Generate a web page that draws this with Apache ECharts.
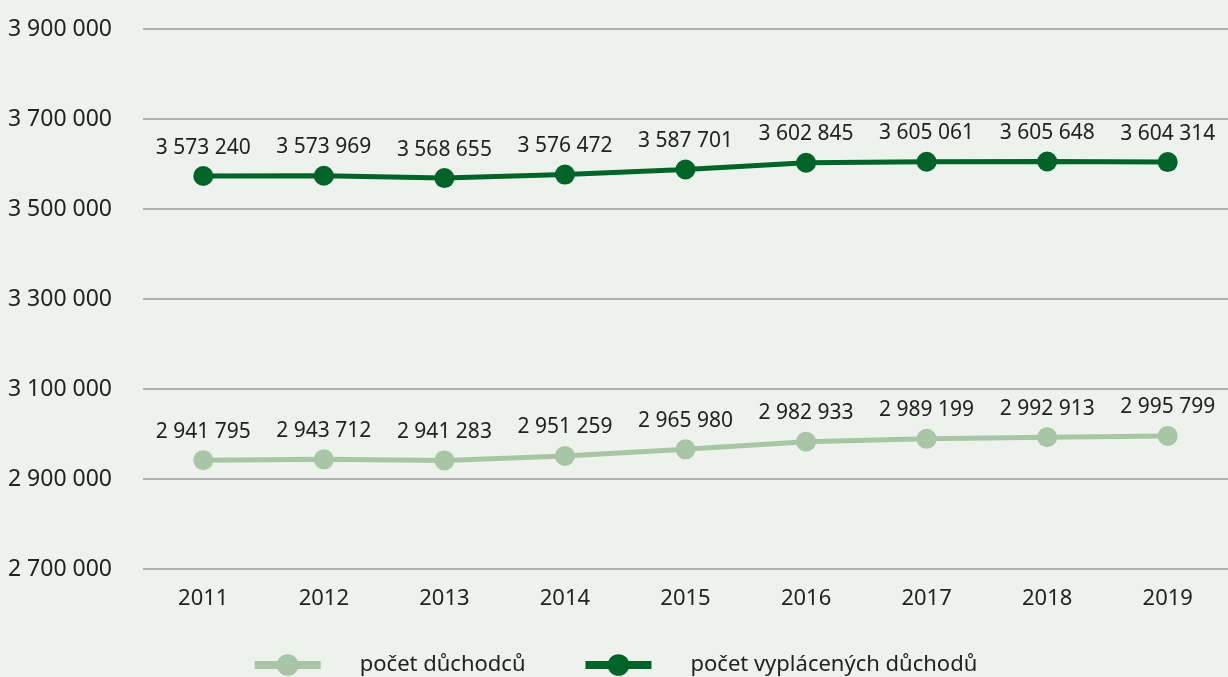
<!DOCTYPE html>
<html lang="cs">
<head>
    <meta charset="UTF-8"/>
    <script src="https://cdn.jsdelivr.net/npm/echarts@6/dist/echarts.min.js"></script>
    <title>Počet důchodců</title>
    <style>
        html, body { margin: 0; padding: 0; background: #edf3ec; }
    </style>
</head>
<body>
<div id="main" style="width: 1228px;height:677px;"></div>
<script type="text/javascript">
    var years = ['2011', '2012', '2013', '2014', '2015', '2016', '2017', '2018', '2019'];
    var duchodci = [2941795, 2943712, 2941283, 2951259, 2965980, 2982933, 2989199, 2992913, 2995799];
    var vyplaceneDuchody = [3573240, 3573969, 3568655, 3576472, 3587701, 3602845, 3605061, 3605648, 3604314];

    function fmt(v) {
        return String(v).replace(/\B(?=(\d{3})+(?!\d))/g, ' ');
    }

    var font = 'Noto Sans';
    var myChart = echarts.init(document.getElementById('main'));

    // společný styl popisků hodnot
    var valueLabel = {
        show: true, position: 'top', distance: 8,
        fontFamily: font, fontSize: 21, color: '#222',
        formatter: function (p) { return fmt(p.value); }
    };

    var option = {
        backgroundColor: '#edf3ec',
        textStyle: { fontFamily: font },
        grid: { left: 143, right: -5, top: 29, bottom: 108 },
        legend: {
            bottom: -4,
            left: 'center',
            itemWidth: 66,
            itemHeight: 27,
            itemGap: 56,
            lineStyle: { width: 8 },
            textStyle: { fontFamily: font, fontSize: 22, color: '#222', padding: [0, 0, 0, 34] },
            data: ['počet důchodců', 'počet vyplácených důchodů']
        },
        xAxis: {
            type: 'category',
            data: years,
            axisLine: { show: false },
            axisTick: { show: false },
            axisLabel: { fontFamily: font, fontSize: 22, color: '#222', margin: 19 }
        },
        yAxis: {
            type: 'value',
            min: 2700000,
            max: 3900000,
            interval: 200000,
            axisLabel: { fontFamily: font, fontSize: 23, color: '#222', margin: 31, formatter: fmt },
            splitLine: { lineStyle: { color: '#b0b0b0', width: 2 } }
        },
        series: [
            {
                name: 'počet důchodců',
                type: 'line',
                data: duchodci,
                color: '#a8c6a6',
                symbol: 'circle',
                symbolSize: 20,
                lineStyle: { width: 5, color: '#a8c6a6' },
                label: valueLabel
            },
            {
                name: 'počet vyplácených důchodů',
                type: 'line',
                data: vyplaceneDuchody,
                color: '#006428',
                symbol: 'circle',
                symbolSize: 20,
                lineStyle: { width: 5, color: '#006428' },
                label: valueLabel
            }
        ]
    };
    myChart.setOption(option);
</script>
</body>
</html>
